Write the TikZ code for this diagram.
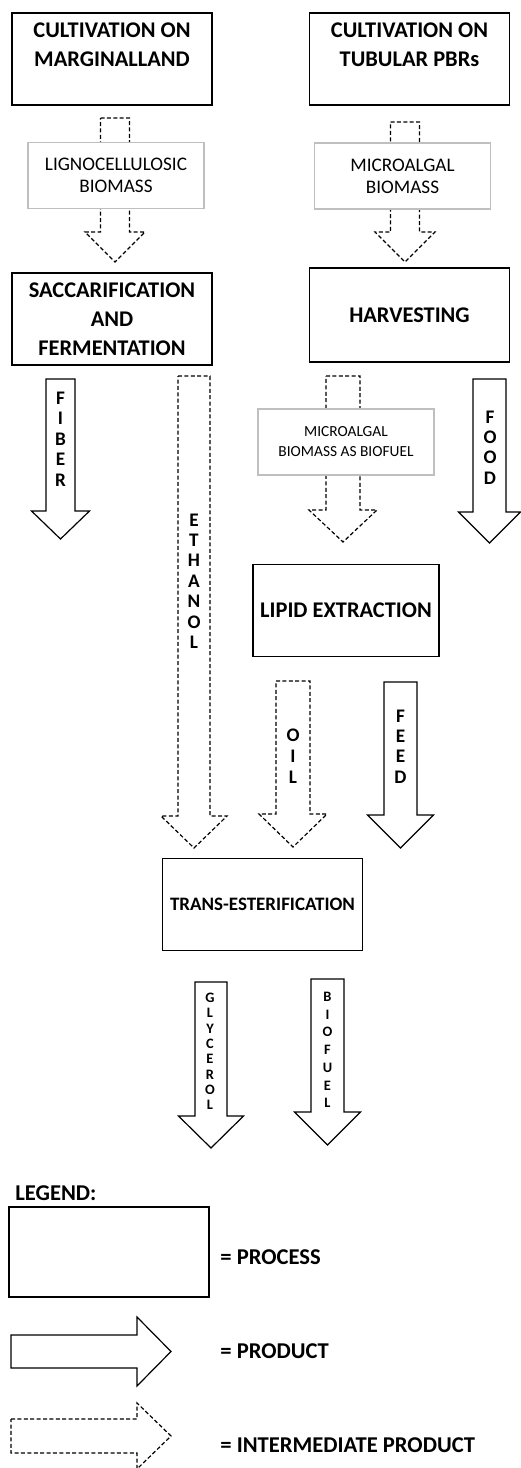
\documentclass[tikz,border=0pt]{standalone}
\usepackage{fontspec}
\setmainfont{Carlito}

% block arrows: centre, half shaft, half head, start, neck, tip
\def\downblock#1#2#3#4#5#6{({#1-#2},#4) -- ({#1+#2},#4) -- ({#1+#2},#5) -- ({#1+#3},#5) -- (#1,#6) -- ({#1-#3},#5) -- ({#1-#2},#5) -- cycle}
\def\rightblock#1#2#3#4#5#6{(#4,{#1-#2}) -- (#5,{#1-#2}) -- (#5,{#1-#3}) -- (#6,#1) -- (#5,{#1+#3}) -- (#5,{#1+#2}) -- (#4,{#1+#2}) -- cycle}

\begin{document}
\begin{tikzpicture}[x=0.5pt,y=-0.5pt,
    process/.style={draw,line width=0.6pt,minimum width=100pt,minimum height=46pt,inner sep=0pt,align=center,font=\fontsize{11.2}{14.4}\selectfont\bfseries},
    stuff/.style={draw=black!25,fill=white,line width=0.6pt,minimum width=88pt,minimum height=33pt,inner sep=0pt,align=center},
    letters/.style={align=center,inner sep=0pt,font=\fontsize{9.6}{10.2}\selectfont\bfseries},
    small letters/.style={align=center,inner sep=0pt,font=\fontsize{7.2}{#1}\selectfont\bfseries},
    product/.style={draw,line width=0.6pt,fill=white},
    intermediate/.style={draw,line width=0.6pt,dash pattern=on 2pt off 1.2pt},
    legendtext/.style={anchor=west,inner sep=0pt,font=\fontsize{11.3}{13}\selectfont\bfseries}]

    \useasboundingbox (0,0) rectangle (520,1468);

    % intermediate products
    \draw[intermediate] \downblock{115}{14.5}{30}{118}{232}{262};
    \draw[intermediate] \downblock{405}{14.5}{30}{122}{232}{262};
    \draw[intermediate] \downblock{194}{16}{33}{376}{816}{848};
    \draw[intermediate] \downblock{343}{17}{34}{376}{510}{542};
    \draw[intermediate] \downblock{293}{17}{34}{681}{814}{847};

    % products
    \draw[product] \downblock{60.5}{14.5}{29}{379}{511}{539};
    \draw[product] \downblock{489.5}{16.5}{31}{379}{512}{543};
    \draw[product] \downblock{400.5}{16.5}{33}{682}{815}{848};
    \draw[product] \downblock{211}{16}{32.5}{982}{1116}{1148};
    \draw[product] \downblock{327.5}{16.5}{33}{979}{1112}{1145};

    % processes
    \node[process] (marginal) at (112,59) {CULTIVATION ON\\MARGINALLAND\\~};
    \node[process] (tubular) at (409.5,59) {CULTIVATION ON\\TUBULAR PBRs\\~};
    \node[process] (saccar) at (112,319) {SACCARIFICATION\\AND\\FERMENTATION};
    \node[process,minimum height=47pt] (harvest) at (409.5,315) {HARVESTING};
    \node[process,minimum width=93pt] (lipid) at (346,610.5) {LIPID EXTRACTION};
    \node[process,font=\fontsize{9.5}{12}\selectfont\bfseries] (transest) at (262.5,904.5) {TRANS-ESTERIFICATION};

    % labels on the intermediate arrows
    \node[stuff,font=\fontsize{9.6}{11}\selectfont] (ligno) at (116,175.5) {LIGNOCELLULOSIC\\BIOMASS};
    \node[stuff,font=\fontsize{9.6}{11}\selectfont] (microbio) at (402.5,176) {MICROALGAL\\BIOMASS};
    \node[stuff,font=\fontsize{7.7}{10}\selectfont] (microfuel) at (346,442) {MICROALGAL\\BIOMASS AS BIOFUEL};

    \node[letters] (fiber) at (60.5,439) {F\\I\\B\\E\\R};
    \node[letters] (ethanol) at (194,581) {E\\T\\H\\A\\N\\O\\L};
    \node[letters] (food) at (490,447.5) {F\\O\\O\\D};
    \node[letters,font=\fontsize{9.6}{10.5}\selectfont\bfseries] (oil) at (293,756) {O\\I\\L};
    \node[letters] (feed) at (400.5,746.5) {F\\E\\E\\D};
    \node[small letters=7.65] (glycerol) at (210,1051.5) {G\\L\\Y\\C\\E\\R\\O\\L};
    \node[small letters=8.85] (biofuel) at (327.5,1050) {B\\I\\O\\F\\U\\E\\L};

    % legend
    \node[legendtext] (legend) at (15,1193) {LEGEND:};
    \node[process,minimum height=45pt] (legproc) at (109,1252) {};
    \node[legendtext] (proctext) at (220,1257) {= PROCESS};
    \draw[product] \rightblock{1351.5}{16.5}{34.5}{11}{137}{171};
    \node[legendtext] (prodtext) at (220,1351) {= PRODUCT};
    \draw[intermediate] \rightblock{1436}{17}{33}{11}{137}{171};
    \node[legendtext] (intertext) at (220,1445) {= INTERMEDIATE PRODUCT};

\end{tikzpicture}
\end{document}
